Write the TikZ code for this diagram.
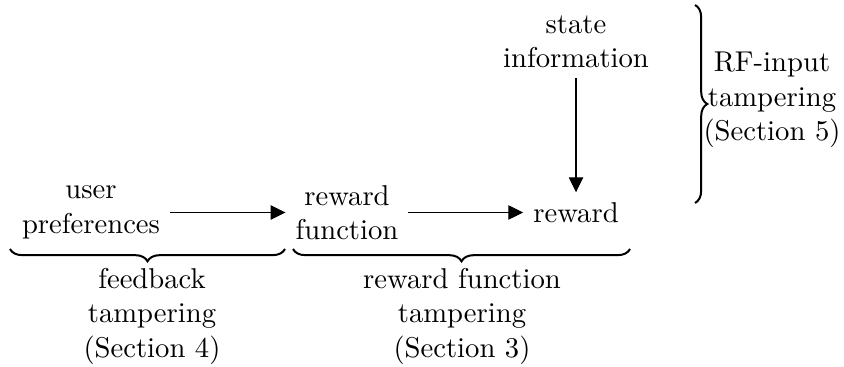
\documentclass[tikz,border=0pt]{standalone}
\usepackage{amsmath,amssymb}
\usepackage{tikz}
\usetikzlibrary{arrows.meta,decorations.pathreplacing}

\tikzset{
  txt/.style={align=center, inner sep=3.33pt},
  flow/.style={-{Triangle[length=5.2pt,width=5pt]}, line width=0.4pt},
  brc/.style={decoration={brace,amplitude=4.3pt}, decorate, line width=0.7pt},
}

\begin{document}
\begin{tikzpicture}[x=0.349pt,y=0.349pt,yscale=-1,xscale=1]
\useasboundingbox (0,0) rectangle (844,367);
% Text Node
\node [txt] (user) at (91,212.5) {user\\preferences};
% Text Node
\node [txt] (rewfun) at (347,212.5) {reward\\function};
% Text Node
\node [txt] (rew) at (576,212.5) {reward};
% Text Node
\node [txt] (state) at (576,42) {state\\information};
%Straight Lines
\draw [flow] (user.east) -- (rewfun.west);
\draw [flow] (rewfun.east) -- (rew.west);
\draw [flow] (state.south) -- (rew.north);
%Braces
\coordinate (fbA) at (10,249);
\coordinate (fbB) at (285,249);
\coordinate (rfA) at (293,249);
\coordinate (rfB) at (630,249);
\coordinate (inA) at (695,5);
\coordinate (inB) at (695,203);
\draw [brc,decoration={mirror}] (fbA) -- (fbB) coordinate[midway] (fbM);
\draw [brc,decoration={mirror}] (rfA) -- (rfB) coordinate[midway] (rfM);
\draw [brc] (inA) -- (inB) coordinate[midway] (inM);
% Text Node
\node [txt, anchor=north] (fblab) at (152,258) {feedback\\tampering\\(Section 4)};
% Text Node
\node [txt, anchor=north] (rflab) at (462,258) {reward function\\tampering\\(Section 3)};
% Text Node
\node [txt] (inlab) at (772,100) {RF-input\\tampering\\(Section 5)};
\end{tikzpicture}
\end{document}
